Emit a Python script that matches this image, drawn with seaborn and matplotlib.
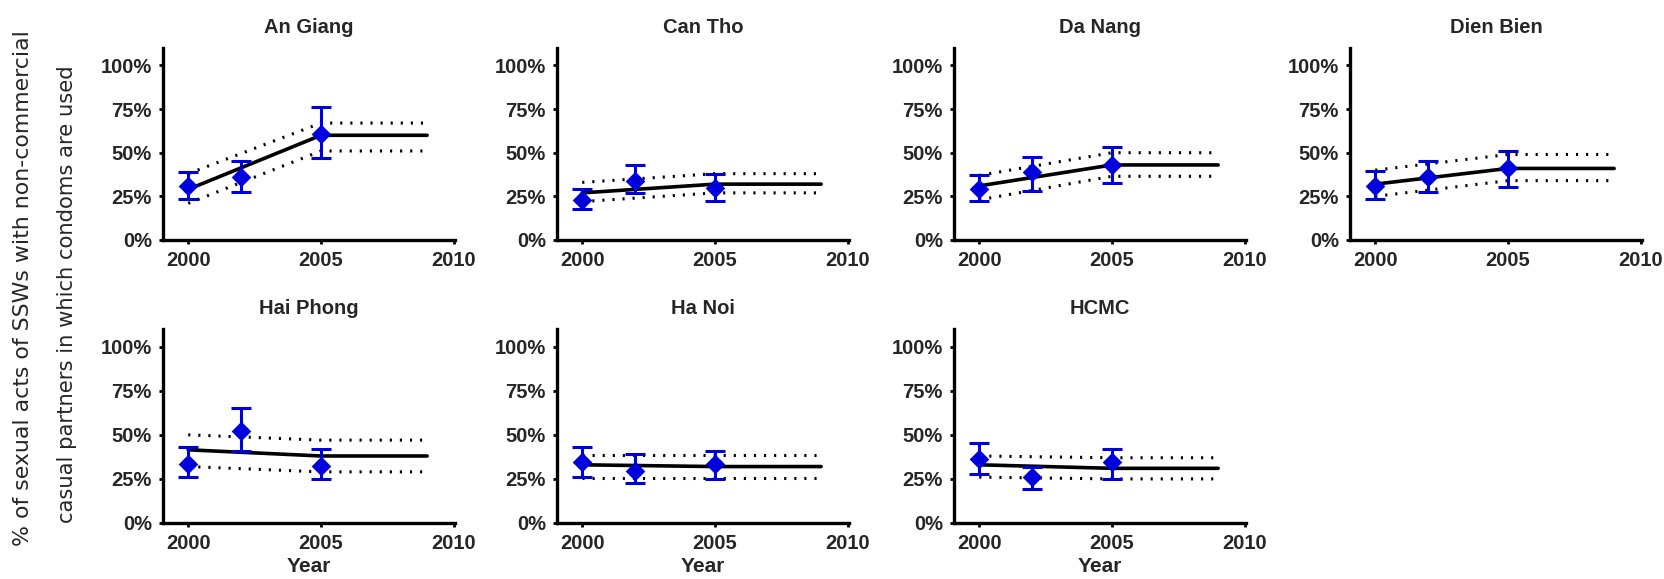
import numpy as np
import pandas as pd
import matplotlib
matplotlib.use("Agg")
import matplotlib.pyplot as plt
import seaborn as sns

# ---------------- data (percent) ----------------
cities = ["An Giang", "Can Tho", "Da Nang", "Dien Bien", "Hai Phong", "Ha Noi", "HCMC"]
survey_years = [2000, 2002, 2005]
obs = {
    "An Giang":  [31.0, 36.0, 61.0],
    "Can Tho":   [23.0, 34.0, 30.0],
    "Da Nang":   [29.0, 39.0, 43.0],
    "Dien Bien": [31.0, 36.0, 41.0],
    "Hai Phong": [33.5, 52.0, 32.5],
    "Ha Noi":    [34.5, 29.5, 33.5],
    "HCMC":      [36.5, 26.0, 34.5],
}
obs_lo = {
    "An Giang":  [23.5, 27.5, 47.0],
    "Can Tho":   [18.0, 27.0, 22.5],
    "Da Nang":   [22.5, 28.0, 32.5],
    "Dien Bien": [23.5, 27.5, 30.5],
    "Hai Phong": [26.0, 41.0, 25.0],
    "Ha Noi":    [26.0, 22.5, 25.0],
    "HCMC":      [28.0, 19.5, 25.0],
}
obs_hi = {
    "An Giang":  [39.0, 45.5, 76.0],
    "Can Tho":   [29.5, 43.0, 38.0],
    "Da Nang":   [37.0, 47.5, 53.5],
    "Dien Bien": [39.5, 45.0, 51.0],
    "Hai Phong": [43.0, 65.0, 42.0],
    "Ha Noi":    [43.0, 39.0, 41.0],
    "HCMC":      [45.5, 31.5, 42.0],
}
model_years = [2000, 2005, 2009]
model_mid = {
    "An Giang":  [29.0, 60.0, 60.0],
    "Can Tho":   [27.0, 32.0, 32.0],
    "Da Nang":   [31.0, 43.0, 43.0],
    "Dien Bien": [32.0, 41.0, 41.0],
    "Hai Phong": [41.5, 38.0, 38.0],
    "Ha Noi":    [33.0, 32.0, 32.0],
    "HCMC":      [33.0, 31.0, 31.0],
}
model_up = {
    "An Giang":  [38.0, 67.0, 67.0],
    "Can Tho":   [33.0, 38.0, 38.0],
    "Da Nang":   [37.0, 50.0, 50.0],
    "Dien Bien": [40.0, 49.0, 49.0],
    "Hai Phong": [50.0, 47.0, 47.0],
    "Ha Noi":    [38.5, 38.5, 38.5],
    "HCMC":      [38.0, 37.0, 37.0],
}
model_low = {
    "An Giang":  [21.0, 51.0, 51.0],
    "Can Tho":   [22.0, 27.0, 27.0],
    "Da Nang":   [23.0, 36.5, 36.5],
    "Dien Bien": [25.0, 34.0, 34.0],
    "Hai Phong": [32.0, 29.0, 29.0],
    "Ha Noi":    [25.5, 25.5, 25.5],
    "HCMC":      [26.0, 25.0, 25.0],
}
x_ticks = [2000, 2005, 2010]
y_ticks = [0, 25, 50, 75, 100]
y_tick_labels = ["0%", "25%", "50%", "75%", "100%"]
ylabel_lines = ["% of sexual acts of SSWs with non-commercial",
                "casual partners in which condoms are used"]

# ---------------- style ----------------
sns.set_theme(style="ticks")
plt.rcParams["font.family"] = ["Liberation Sans", "DejaVu Sans"]
BLUE = "#0000DD"

fig = plt.figure(figsize=(16.65, 5.79), dpi=100)
lefts = [163, 557, 954, 1350]
W, H = 1665.0, 579.0
aw = 292
rows = [(48, 240), (329, 523)]

for i, city in enumerate(cities):
    r, c = divmod(i, 4)
    top, bot = rows[r]
    ax = fig.add_axes([lefts[c] / W, 1 - bot / H, aw / W, (bot - top) / H])

    mdf = pd.DataFrame({"year": model_years, "mid": model_mid[city],
                        "up": model_up[city], "low": model_low[city]})
    sns.lineplot(data=mdf, x="year", y="mid", color="black", lw=2.6, ax=ax)
    for col in ["up", "low"]:
        sns.lineplot(data=mdf, x="year", y=col, color="black", lw=2.2,
                     dashes=False, ax=ax, linestyle=(0, (0.7, 2.6)))
    o = np.array(obs[city]); lo = np.array(obs_lo[city]); hi = np.array(obs_hi[city])
    ax.errorbar(survey_years, o, yerr=[o - lo, hi - o], fmt="none",
                ecolor=BLUE, elinewidth=2.2, capsize=7, capthick=2.2, zorder=4)
    sns.scatterplot(x=survey_years, y=o, marker="D", s=100, color=BLUE,
                    edgecolor=BLUE, linewidth=0, ax=ax, zorder=5)

    ax.set_xlim(1999.05, 2010.05)
    ax.set_ylim(0, 110)
    ax.set_xticks(x_ticks)
    ax.set_yticks(y_ticks)
    ax.set_yticklabels(y_tick_labels)
    for sp in ["top", "right"]:
        ax.spines[sp].set_visible(False)
    for sp in ["left", "bottom"]:
        ax.spines[sp].set_linewidth(2.4)
        ax.spines[sp].set_color("black")
    ax.tick_params(axis="both", length=3, width=2, color="black",
                   labelsize=14.5, pad=5)
    for lab in ax.get_xticklabels() + ax.get_yticklabels():
        lab.set_fontweight("bold")
    ax.set_title(city, fontsize=14.5, fontweight="bold", pad=11)
    ax.set_ylabel("")
    if r == 1:
        ax.set_xlabel("Year", fontsize=15, fontweight="bold", labelpad=3)
    else:
        ax.set_xlabel("")

fig.text(23 / W, 1 - 288 / H, ylabel_lines[0], rotation=90, ha="center",
         va="center", fontsize=15.8, family=["DejaVu Sans"])
fig.text(67 / W, 1 - 294 / H, ylabel_lines[1], rotation=90, ha="center",
         va="center", fontsize=15.2, family=["DejaVu Sans"])

fig.savefig("out.png", dpi=100, facecolor="white")
